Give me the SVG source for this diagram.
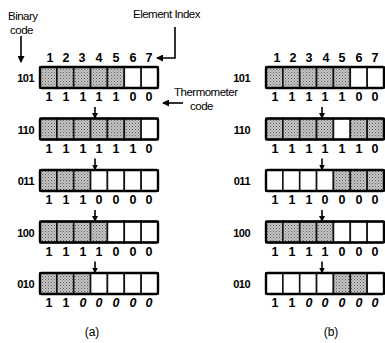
<svg xmlns="http://www.w3.org/2000/svg" width="385" height="343" viewBox="0 0 385 343">
<style>
text{font-family:"Liberation Sans",Arial,sans-serif;fill:#000}
.lbl{font-size:11.5px;letter-spacing:-0.5px}
.num{font-size:12.5px;font-weight:bold;text-anchor:middle}
.row{font-size:11px;font-weight:bold;text-anchor:end;letter-spacing:-0.5px}
.cap{font-size:12px;text-anchor:middle}
.c{stroke:#111;stroke-width:1.6}
.s{fill:url(#dots)}
.w{fill:#fff}
.frame{fill:none;stroke:#000;stroke-width:2.4}
.ln{stroke:#000;stroke-width:1.6;fill:none}
</style>
<defs>
<pattern id="dots" width="3" height="3" patternUnits="userSpaceOnUse">
<rect width="3" height="3" fill="#c4c4c4"/>
<rect x="0" y="0" width="1" height="1" fill="#606060"/>
<rect x="1.5" y="1.5" width="1" height="1" fill="#808080"/>
</pattern>
<marker id="ah" markerWidth="7" markerHeight="7" refX="6" refY="3.5" orient="auto" markerUnits="userSpaceOnUse">
<path d="M0,0 L7,3.5 L0,7 Z" fill="#000"/>
</marker>
<marker id="ahs" markerWidth="6" markerHeight="6" refX="5" refY="3" orient="auto" markerUnits="userSpaceOnUse">
<path d="M0,0 L6,3 L0,6 Z" fill="#000"/>
</marker>
</defs>

<g id="labels">
<text class="lbl" x="8" y="20">Binary</text>
<text class="lbl" x="10" y="34">code</text>
<text class="lbl" x="133" y="18">Element Index</text>
<text class="lbl" x="174" y="96">Thermometer</text>
<text class="lbl" x="190" y="110">code</text>
<text class="cap" x="92" y="336">(a)</text>
<text class="cap" x="331" y="336">(b)</text>
</g>

<g id="connectors">
<line class="ln" x1="21" y1="36" x2="21" y2="62" marker-end="url(#ah)"/>
<polyline class="ln" points="175,27 175,58 157,58" marker-end="url(#ah)"/>
<line class="ln" x1="183" y1="103" x2="163" y2="103" marker-end="url(#ah)"/>
<line class="ln" x1="95" y1="107" x2="95" y2="118" marker-end="url(#ahs)"/>
<line class="ln" x1="95" y1="158.5" x2="95" y2="169.5" marker-end="url(#ahs)"/>
<line class="ln" x1="95" y1="210" x2="95" y2="221" marker-end="url(#ahs)"/>
<line class="ln" x1="95" y1="261.5" x2="95" y2="272.5" marker-end="url(#ahs)"/>
<line class="ln" x1="322" y1="107" x2="322" y2="118" marker-end="url(#ahs)"/>
<line class="ln" x1="322" y1="158.5" x2="322" y2="169.5" marker-end="url(#ahs)"/>
<line class="ln" x1="322" y1="210" x2="322" y2="221" marker-end="url(#ahs)"/>
<line class="ln" x1="322" y1="261.5" x2="322" y2="272.5" marker-end="url(#ahs)"/>
</g>

<!-- Panel (a) -->
<g id="a-index">
<text class="num" x="50" y="62">1</text><text class="num" x="66" y="62">2</text><text class="num" x="82" y="62">3</text><text class="num" x="99" y="62">4</text><text class="num" x="116" y="62">5</text><text class="num" x="133" y="62">6</text><text class="num" x="149" y="62">7</text>
</g>

<g id="a-row1">
<text class="row" x="34" y="82">101</text>
<rect class="c s" x="40" y="67" width="16.86" height="21"/><rect class="c s" x="56.86" y="67" width="16.86" height="21"/><rect class="c s" x="73.71" y="67" width="16.86" height="21"/><rect class="c s" x="90.57" y="67" width="16.86" height="21"/><rect class="c s" x="107.43" y="67" width="16.86" height="21"/><rect class="c w" x="124.29" y="67" width="16.86" height="21"/><rect class="c w" x="141.14" y="67" width="16.86" height="21"/>
<rect class="frame" x="40" y="67" width="118" height="21" rx="1.5"/>
<text class="num" x="49" y="101">1</text><text class="num" x="66" y="101">1</text><text class="num" x="83" y="101">1</text><text class="num" x="99" y="101">1</text><text class="num" x="116" y="101">1</text><text class="num" x="133" y="101">0</text><text class="num" x="149" y="101">0</text>
</g>

<g id="a-row2">
<text class="row" x="34" y="133.5">110</text>
<rect class="c s" x="40" y="118.5" width="16.86" height="21"/><rect class="c s" x="56.86" y="118.5" width="16.86" height="21"/><rect class="c s" x="73.71" y="118.5" width="16.86" height="21"/><rect class="c s" x="90.57" y="118.5" width="16.86" height="21"/><rect class="c s" x="107.43" y="118.5" width="16.86" height="21"/><rect class="c s" x="124.29" y="118.5" width="16.86" height="21"/><rect class="c w" x="141.14" y="118.5" width="16.86" height="21"/>
<rect class="frame" x="40" y="118.5" width="118" height="21" rx="1.5"/>
<text class="num" x="49" y="152.5">1</text><text class="num" x="66" y="152.5">1</text><text class="num" x="83" y="152.5">1</text><text class="num" x="99" y="152.5">1</text><text class="num" x="116" y="152.5">1</text><text class="num" x="133" y="152.5">1</text><text class="num" x="149" y="152.5">0</text>
</g>

<g id="a-row3">
<text class="row" x="34" y="185">011</text>
<rect class="c s" x="40" y="170" width="16.86" height="21"/><rect class="c s" x="56.86" y="170" width="16.86" height="21"/><rect class="c s" x="73.71" y="170" width="16.86" height="21"/><rect class="c w" x="90.57" y="170" width="16.86" height="21"/><rect class="c w" x="107.43" y="170" width="16.86" height="21"/><rect class="c w" x="124.29" y="170" width="16.86" height="21"/><rect class="c w" x="141.14" y="170" width="16.86" height="21"/>
<rect class="frame" x="40" y="170" width="118" height="21" rx="1.5"/>
<text class="num" x="49" y="204">1</text><text class="num" x="66" y="204">1</text><text class="num" x="83" y="204">1</text><text class="num" x="99" y="204">0</text><text class="num" x="116" y="204">0</text><text class="num" x="133" y="204">0</text><text class="num" x="149" y="204">0</text>
</g>

<g id="a-row4">
<text class="row" x="34" y="236.5">100</text>
<rect class="c s" x="40" y="221.5" width="16.86" height="21"/><rect class="c s" x="56.86" y="221.5" width="16.86" height="21"/><rect class="c s" x="73.71" y="221.5" width="16.86" height="21"/><rect class="c s" x="90.57" y="221.5" width="16.86" height="21"/><rect class="c w" x="107.43" y="221.5" width="16.86" height="21"/><rect class="c w" x="124.29" y="221.5" width="16.86" height="21"/><rect class="c w" x="141.14" y="221.5" width="16.86" height="21"/>
<rect class="frame" x="40" y="221.5" width="118" height="21" rx="1.5"/>
<text class="num" x="49" y="255.5">1</text><text class="num" x="66" y="255.5">1</text><text class="num" x="83" y="255.5">1</text><text class="num" x="99" y="255.5">1</text><text class="num" x="116" y="255.5">0</text><text class="num" x="133" y="255.5">0</text><text class="num" x="149" y="255.5">0</text>
</g>

<g id="a-row5">
<text class="row" x="34" y="288">010</text>
<rect class="c s" x="40" y="273" width="16.86" height="21"/><rect class="c s" x="56.86" y="273" width="16.86" height="21"/><rect class="c s" x="73.71" y="273" width="16.86" height="21"/><rect class="c w" x="90.57" y="273" width="16.86" height="21"/><rect class="c w" x="107.43" y="273" width="16.86" height="21"/><rect class="c w" x="124.29" y="273" width="16.86" height="21"/><rect class="c w" x="141.14" y="273" width="16.86" height="21"/>
<rect class="frame" x="40" y="273" width="118" height="21" rx="1.5"/>
<text class="num" x="49" y="307">1</text><text class="num" x="66" y="307">1</text><text class="num" x="83" y="307" font-style="italic">0</text><text class="num" x="99" y="307" font-style="italic">0</text><text class="num" x="116" y="307" font-style="italic">0</text><text class="num" x="133" y="307" font-style="italic">0</text><text class="num" x="149" y="307" font-style="italic">0</text>
</g>

<!-- Panel (b) -->
<g id="b-index">
<text class="num" x="277" y="62">1</text><text class="num" x="293" y="62">2</text><text class="num" x="309" y="62">3</text><text class="num" x="326" y="62">4</text><text class="num" x="342" y="62">5</text><text class="num" x="359" y="62">6</text><text class="num" x="375" y="62">7</text>
</g>

<g id="b-row1">
<text class="row" x="250" y="82">101</text>
<rect class="c s" x="266" y="67" width="16.86" height="21"/><rect class="c s" x="282.86" y="67" width="16.86" height="21"/><rect class="c s" x="299.71" y="67" width="16.86" height="21"/><rect class="c s" x="316.57" y="67" width="16.86" height="21"/><rect class="c s" x="333.43" y="67" width="16.86" height="21"/><rect class="c w" x="350.29" y="67" width="16.86" height="21"/><rect class="c w" x="367.14" y="67" width="16.86" height="21"/>
<rect class="frame" x="266" y="67" width="118" height="21" rx="1.5"/>
<text class="num" x="275" y="101">1</text><text class="num" x="292" y="101">1</text><text class="num" x="309" y="101">1</text><text class="num" x="325" y="101">1</text><text class="num" x="342" y="101">1</text><text class="num" x="359" y="101">0</text><text class="num" x="375" y="101">0</text>
</g>

<g id="b-row2">
<text class="row" x="250" y="133.5">110</text>
<rect class="c s" x="266" y="118.5" width="16.86" height="21"/><rect class="c s" x="282.86" y="118.5" width="16.86" height="21"/><rect class="c s" x="299.71" y="118.5" width="16.86" height="21"/><rect class="c s" x="316.57" y="118.5" width="16.86" height="21"/><rect class="c w" x="333.43" y="118.5" width="16.86" height="21"/><rect class="c s" x="350.29" y="118.5" width="16.86" height="21"/><rect class="c s" x="367.14" y="118.5" width="16.86" height="21"/>
<rect class="frame" x="266" y="118.5" width="118" height="21" rx="1.5"/>
<text class="num" x="275" y="152.5">1</text><text class="num" x="292" y="152.5">1</text><text class="num" x="309" y="152.5">1</text><text class="num" x="325" y="152.5">1</text><text class="num" x="342" y="152.5">1</text><text class="num" x="359" y="152.5">1</text><text class="num" x="375" y="152.5">0</text>
</g>

<g id="b-row3">
<text class="row" x="250" y="185">011</text>
<rect class="c w" x="266" y="170" width="16.86" height="21"/><rect class="c w" x="282.86" y="170" width="16.86" height="21"/><rect class="c w" x="299.71" y="170" width="16.86" height="21"/><rect class="c w" x="316.57" y="170" width="16.86" height="21"/><rect class="c s" x="333.43" y="170" width="16.86" height="21"/><rect class="c s" x="350.29" y="170" width="16.86" height="21"/><rect class="c s" x="367.14" y="170" width="16.86" height="21"/>
<rect class="frame" x="266" y="170" width="118" height="21" rx="1.5"/>
<text class="num" x="275" y="204">1</text><text class="num" x="292" y="204">1</text><text class="num" x="309" y="204">1</text><text class="num" x="325" y="204">0</text><text class="num" x="342" y="204">0</text><text class="num" x="359" y="204">0</text><text class="num" x="375" y="204">0</text>
</g>

<g id="b-row4">
<text class="row" x="250" y="236.5">100</text>
<rect class="c s" x="266" y="221.5" width="16.86" height="21"/><rect class="c s" x="282.86" y="221.5" width="16.86" height="21"/><rect class="c s" x="299.71" y="221.5" width="16.86" height="21"/><rect class="c s" x="316.57" y="221.5" width="16.86" height="21"/><rect class="c w" x="333.43" y="221.5" width="16.86" height="21"/><rect class="c w" x="350.29" y="221.5" width="16.86" height="21"/><rect class="c w" x="367.14" y="221.5" width="16.86" height="21"/>
<rect class="frame" x="266" y="221.5" width="118" height="21" rx="1.5"/>
<text class="num" x="275" y="255.5">1</text><text class="num" x="292" y="255.5">1</text><text class="num" x="309" y="255.5">1</text><text class="num" x="325" y="255.5">1</text><text class="num" x="342" y="255.5">0</text><text class="num" x="359" y="255.5">0</text><text class="num" x="375" y="255.5">0</text>
</g>

<g id="b-row5">
<text class="row" x="250" y="288">010</text>
<rect class="c w" x="266" y="273" width="16.86" height="21"/><rect class="c w" x="282.86" y="273" width="16.86" height="21"/><rect class="c w" x="299.71" y="273" width="16.86" height="21"/><rect class="c w" x="316.57" y="273" width="16.86" height="21"/><rect class="c s" x="333.43" y="273" width="16.86" height="21"/><rect class="c s" x="350.29" y="273" width="16.86" height="21"/><rect class="c w" x="367.14" y="273" width="16.86" height="21"/>
<rect class="frame" x="266" y="273" width="118" height="21" rx="1.5"/>
<text class="num" x="275" y="307">1</text><text class="num" x="292" y="307">1</text><text class="num" x="309" y="307" font-style="italic">0</text><text class="num" x="325" y="307" font-style="italic">0</text><text class="num" x="342" y="307" font-style="italic">0</text><text class="num" x="359" y="307" font-style="italic">0</text><text class="num" x="375" y="307" font-style="italic">0</text>
</g>
</svg>
